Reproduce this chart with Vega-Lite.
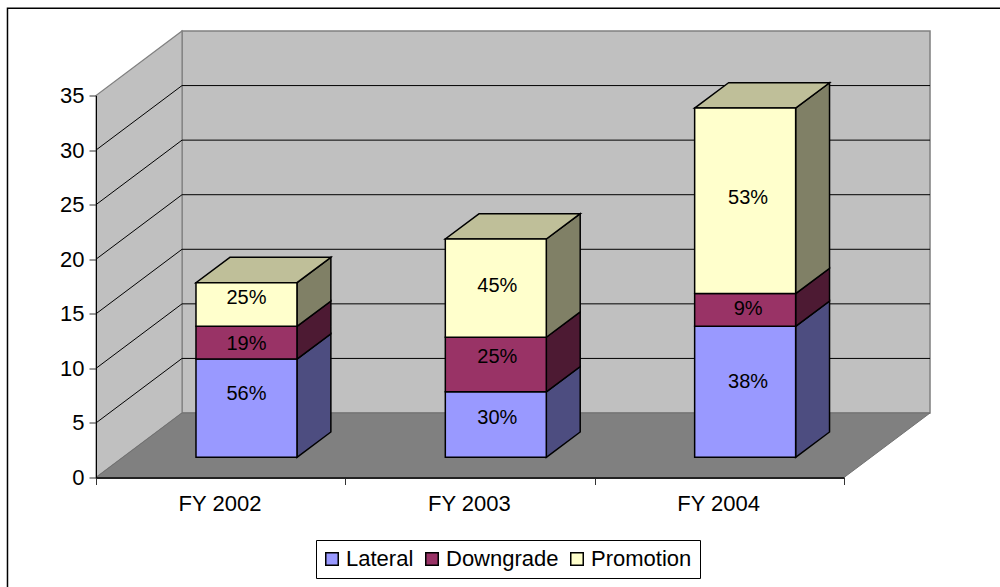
{
"$schema":"https://vega.github.io/schema/vega-lite/v6.json",
"width":748,"height":382,
"autosize":"none",
"padding":{"left":96,"top":95.5,"right":156,"bottom":109.5},
"background":"white",
"datasets":{
"bars":[
{"year":"FY 2002","i":0,"series":"Lateral","order":1,"value":9,"pct":"56%","labelAt":5.76},
{"year":"FY 2002","i":0,"series":"Downgrade","order":2,"value":3,"pct":"19%","labelAt":10.35},
{"year":"FY 2002","i":0,"series":"Promotion","order":3,"value":4,"pct":"25%","labelAt":14.56},
{"year":"FY 2003","i":1,"series":"Lateral","order":1,"value":6,"pct":"30%","labelAt":3.56},
{"year":"FY 2003","i":1,"series":"Downgrade","order":2,"value":5,"pct":"25%","labelAt":9.15},
{"year":"FY 2003","i":1,"series":"Promotion","order":3,"value":9,"pct":"45%","labelAt":15.66},
{"year":"FY 2004","i":2,"series":"Lateral","order":1,"value":12,"pct":"38%","labelAt":6.86},
{"year":"FY 2004","i":2,"series":"Downgrade","order":2,"value":3,"pct":"9%","labelAt":13.55},
{"year":"FY 2004","i":2,"series":"Promotion","order":3,"value":17,"pct":"53%","labelAt":23.72}
],
"span":[{"d":0},{"d":1}],
"gridTicks":[{"v":5},{"v":10},{"v":15},{"v":20},{"v":25},{"v":30}]
},
"encoding":{
"x":{"field":"X","type":"quantitative","scale":{"domain":[0,3],"nice":false,"zero":false},
"axis":{"title":null,"grid":false,"values":[0,1,2,3],"labelExpr":"datum.value==0?'FY 2002':datum.value==1?'FY 2003':datum.value==2?'FY 2004':''","labelOffset":123.5,"labelFont":"Liberation Sans","labelFontSize":22,"labelColor":"#000","labelPadding":9,"tickSize":7,"tickColor":"#333","domainColor":"#222","domainWidth":2,"labelOverlap":false,"labelBound":false,"labelFlush":false,"zindex":1}},
"y":{"field":"Y","type":"quantitative","stack":null,"scale":{"domain":[0,35],"nice":false,"zero":false},
"axis":{"title":null,"grid":false,"values":[0,5,10,15,20,25,30,35],"labelFont":"Liberation Sans","labelFontSize":22,"labelColor":"#000","labelPadding":5,"tickSize":7,"tickColor":"#333","domainColor":"#000","domainWidth":1,"zindex":1}}
},
"layer":[
{"data":{"values":[{"left":-0.355,"right":4,"top":43,"bottom":-12}]},
"transform":[{"calculate":"datum.left","as":"X"},{"calculate":"datum.top","as":"Y"}],
"mark":{"type":"rect","fill":"white","stroke":"black","strokeWidth":1.5,"clip":false},
"encoding":{"x2":{"field":"right"},"y2":{"field":"bottom"}}},
{"data":{"name":"span"},
"transform":[{"filter":"datum.d==0"},{"calculate":"0.345","as":"X"},{"calculate":"3.345","as":"X2"},{"calculate":"5.91","as":"Y"},{"calculate":"40.91","as":"Y2"}],
"mark":{"type":"rect","fill":"#C0C0C0","stroke":"#808080","strokeWidth":1.5},
"encoding":{"x2":{"field":"X2"},"y2":{"field":"Y2"}}},
{"data":{"name":"span"},
"transform":[{"calculate":"0.345*datum.d","as":"X"},{"calculate":"5.91*datum.d","as":"Y"},{"calculate":"35+5.91*datum.d","as":"Y2"}],
"mark":{"type":"area","orient":"vertical","fill":"#C0C0C0","stroke":"#808080","strokeWidth":1.2},
"encoding":{"y2":{"field":"Y2"}}},
{"data":{"name":"span"},
"transform":[{"calculate":"0.345*datum.d","as":"X"},{"calculate":"3+0.345*datum.d","as":"X2"},{"calculate":"5.91*datum.d","as":"Y"}],
"mark":{"type":"area","orient":"horizontal","fill":"#808080","stroke":"#707070","strokeWidth":1},
"encoding":{"x2":{"field":"X2"}}},
{"data":{"name":"gridTicks"},
"transform":[{"calculate":"[0,1,2]","as":"d"},{"flatten":["d"]},{"calculate":"datum.d==2?3.345:0.345*datum.d","as":"X"},{"calculate":"datum.v+5.91*min(datum.d,1)","as":"Y"}],
"mark":{"type":"line","color":"#000","strokeWidth":1},
"encoding":{"detail":{"field":"v"}}},
{"data":{"name":"bars"},
"transform":[{"stack":"value","groupby":["year"],"sort":[{"field":"order"}],"as":["v0","v1"]},
{"calculate":"[0,1]","as":"d"},{"flatten":["d"]},
{"calculate":"datum.series+' side'","as":"face"},
{"calculate":"datum.i+0.806+0.136*datum.d","as":"X"},
{"calculate":"datum.v0+1.85+2.32*datum.d","as":"Y"},
{"calculate":"datum.v1+1.85+2.32*datum.d","as":"Y2"}],
"mark":{"type":"area","orient":"vertical","stroke":"#000","strokeWidth":1.5,"strokeJoin":"miter","opacity":1},
"encoding":{"y2":{"field":"Y2"},"detail":{"field":"year"},
"color":{"field":"face","type":"nominal","legend":null,"scale":{"domain":["Lateral side","Downgrade side","Promotion side","Promotion top"],"range":["#4D4D80","#4D1A33","#808066","#BFBF99"]}}}},
{"data":{"name":"bars"},
"transform":[{"stack":"value","groupby":["year"],"sort":[{"field":"order"}],"as":["v0","v1"]},
{"filter":"datum.series=='Promotion'"},
{"calculate":"[0,1]","as":"d"},{"flatten":["d"]},
{"calculate":"'Promotion top'","as":"face"},
{"calculate":"datum.i+0.401+0.136*datum.d","as":"X"},
{"calculate":"datum.i+0.806+0.136*datum.d","as":"X2"},
{"calculate":"datum.v1+1.85+2.32*datum.d","as":"Y"}],
"mark":{"type":"area","orient":"horizontal","stroke":"#000","strokeWidth":1.5,"opacity":1},
"encoding":{"x2":{"field":"X2"},"detail":{"field":"year"},
"color":{"field":"face","type":"nominal","legend":null,"scale":{"domain":["Lateral side","Downgrade side","Promotion side","Promotion top"],"range":["#4D4D80","#4D1A33","#808066","#BFBF99"]}}}},
{"data":{"name":"bars"},
"transform":[{"stack":"value","groupby":["year"],"sort":[{"field":"order"}],"as":["v0","v1"]},
{"calculate":"datum.i+0.401","as":"X"},
{"calculate":"datum.i+0.806","as":"X2"},
{"calculate":"datum.v0+1.85","as":"Y"},
{"calculate":"datum.v1+1.85","as":"Y2"}],
"mark":{"type":"rect","stroke":"#000","strokeWidth":1.5,"opacity":1},
"encoding":{"x2":{"field":"X2"},"y2":{"field":"Y2"},
"fill":{"field":"series","type":"nominal","title":null,
"scale":{"domain":["Lateral","Downgrade","Promotion"],"range":["#9999FF","#993366","#FFFFCC"]},
"legend":{"orient":"none","legendX":220,"legendY":444.5,"direction":"horizontal","columns":3,"symbolType":"square","symbolSize":156,"symbolOffset":-3,"symbolStrokeColor":"#000","symbolStrokeWidth":1.5,"symbolOpacity":1,"labelFont":"Liberation Sans","labelFontSize":22,"labelColor":"#000","labelOffset":3,"columnPadding":8,"fillColor":"white","strokeColor":"#000","padding":8,"labelLimit":200}}}},
{"data":{"name":"bars"},
"transform":[{"calculate":"datum.i*1.006+0.6035","as":"X"},{"calculate":"datum.labelAt+1.85","as":"Y"}],
"mark":{"type":"text","font":"Liberation Sans","fontSize":20,"color":"#000","align":"center","baseline":"middle"},
"encoding":{"text":{"field":"pct"}}}
]
}
